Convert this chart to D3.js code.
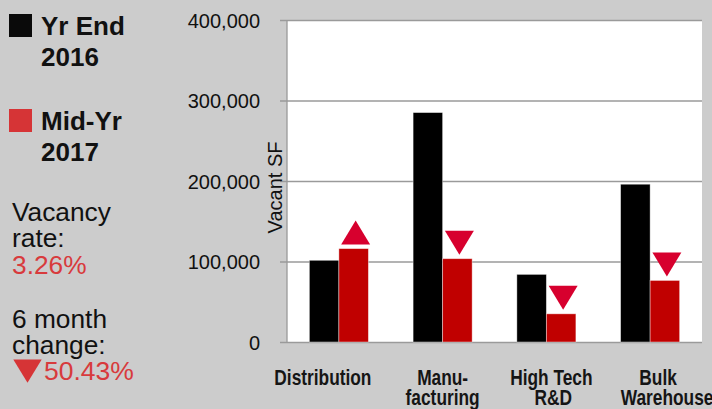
<!DOCTYPE html>
<html>
<head>
<meta charset="utf-8">
<script src="https://cdn.jsdelivr.net/npm/d3@7"></script>
<style>
  html, body { margin: 0; padding: 0; background: #cccccc; }
  svg { display: block; }
</style>
</head>
<body>
<svg id="chart" width="712" height="409"></svg>
<script>
// ---- data ----
const categories = ["Distribution", "Manufacturing", "High Tech R&D", "Bulk Warehouse"];
const categoryLabels = [["Distribution"], ["Manu-", "facturing"], ["High Tech", "R&D"], ["Bulk", "Warehouse"]];
const seriesNames = ["Yr End 2016", "Mid-Yr 2017"];
const yrEnd2016 = [101500, 285000, 84000, 196000];
const midYr2017 = [116000, 103500, 35000, 76500];
const yTicks = [0, 100000, 200000, 300000, 400000];
const vacancyRate = "3.26%";
const sixMonthChange = "50.43%";

// ---- layout ----
const W = 712, H = 409;
const plot = { left: 287, right: 702, top: 20, bottom: 342 };
const svg = d3.select("#chart");

svg.append("rect").attr("x", 0).attr("y", 0).attr("width", W).attr("height", H).attr("fill", "#cccccc");
svg.append("rect").attr("x", plot.left).attr("y", plot.top)
  .attr("width", plot.right - plot.left).attr("height", plot.bottom - plot.top).attr("fill", "#ffffff");

const x = d3.scaleBand().domain(categories).range([plot.left, plot.right])
  .paddingInner(0.431).paddingOuter(0.2155);
const xs = d3.scaleBand().domain([0, 1]).range([0, x.bandwidth()]);
const y = d3.scaleLinear().domain([0, 400000]).range([plot.bottom, plot.top]);

// y axis with gridlines
const yAxis = d3.axisLeft(y).tickValues(yTicks).tickFormat(d3.format(","))
  .tickSize(-(plot.right - plot.left)).tickPadding(27);
const ga = svg.append("g").attr("transform", `translate(${plot.left},0)`).call(yAxis);
ga.select(".domain").remove();
ga.selectAll(".tick line").attr("x1", -7).attr("stroke", "#9a9a9a").attr("stroke-width", 1.3);
ga.selectAll(".tick text").attr("font-family", "'Liberation Sans', Arial, sans-serif")
  .attr("font-size", 20).attr("fill", "#111").attr("dy", "0.35em");
svg.append("line").attr("x1", plot.left).attr("x2", plot.left)
  .attr("y1", plot.top).attr("y2", plot.bottom + 0.5).attr("stroke", "#9a9a9a").attr("stroke-width", 1.3);

// y title
svg.append("text").attr("transform", `translate(282,${(141.7 + 233.3) / 2}) rotate(-90)`)
  .attr("text-anchor", "middle").attr("font-family", "'Liberation Sans', Arial, sans-serif")
  .attr("font-size", 20).attr("fill", "#111").text("Vacant SF");

// bars
const seriesColors = ["#000000", "#c00000"];
const seriesData = [yrEnd2016, midYr2017];
seriesData.forEach((vals, s) => {
  svg.append("g").selectAll("rect").data(vals).join("rect")
    .attr("x", (d, i) => x(categories[i]) + xs(s))
    .attr("y", d => y(d))
    .attr("width", xs.bandwidth())
    .attr("height", d => y(0) - y(d))
    .attr("fill", seriesColors[s])
    .attr("stroke", "#ffffff").attr("stroke-opacity", 0.5).attr("stroke-width", 0.8);
});

// change triangles
const triW = 29, triH = 24, triGap = 4;
svg.append("g").selectAll("path").data(midYr2017).join("path")
  .attr("d", (d, i) => {
    const cx = x(categories[i]) + xs(1) + xs.bandwidth() / 2 + 2;
    const base = y(d) - triGap;
    const up = d > yrEnd2016[i];
    if (up) return `M${cx - triW / 2},${base} L${cx + triW / 2},${base} L${cx},${base - triH} Z`;
    return `M${cx - triW / 2},${base - triH} L${cx + triW / 2},${base - triH} L${cx},${base} Z`;
  })
  .attr("fill", "#d7002e");

// category labels (condensed look via horizontal scale)
const lineDx = [[-16], [0, 0], [5, 7], [8, 17]];
const catFont = "'Liberation Sans', Arial, sans-serif";
categoryLabels.forEach((lines, i) => {
  const cx = x(categories[i]) + x.bandwidth() / 2;
  lines.forEach((ln, j) => {
    svg.append("g").attr("transform", `translate(${cx + lineDx[i][j]},${385 + j * 20}) scale(0.77,1)`)
      .append("text").attr("x", 0).attr("y", 0)
      .attr("text-anchor", "middle").attr("font-family", catFont).attr("font-weight", "bold")
      .attr("font-size", 22.5).attr("fill", "#151515").text(ln);
  });
});

// legend
const legFont = "'Liberation Sans', Arial, sans-serif";
const legColors = ["#0a0a0a", "#d63436"];
const legLines = [["Yr End", "2016"], ["Mid-Yr", "2017"]];
legLines.forEach((lines, k) => {
  const top = 14 + k * 95;
  svg.append("rect").attr("x", 9).attr("y", top).attr("width", 23).attr("height", 23).attr("fill", legColors[k]);
  lines.forEach((ln, j) => {
    svg.append("text").attr("x", 41).attr("y", top + 20.5 + j * 31)
      .attr("font-family", legFont).attr("font-weight", "bold").attr("font-size", 26)
      .attr("fill", "#111").text(ln);
  });
});

// side notes
const noteRed = "#d83a3c";
const notes = [
  { t: "Vacancy", y: 221, c: "#111" },
  { t: "rate:", y: 247, c: "#111" },
  { t: vacancyRate, y: 273.5, c: noteRed },
  { t: "6 month", y: 327.5, c: "#111" },
  { t: "change:", y: 353.5, c: "#111" },
];
notes.forEach(n => {
  svg.append("text").attr("x", 12).attr("y", n.y).attr("font-family", legFont)
    .attr("font-size", 26.3).attr("fill", n.c).text(n.t);
});
svg.append("path").attr("d", "M13.3,359.5 L41.7,359.5 L27.5,382.7 Z").attr("fill", "#d63436");
svg.append("text").attr("x", 44).attr("y", 380).attr("font-family", legFont)
  .attr("font-size", 26.5).attr("fill", noteRed).text(sixMonthChange);
</script>
</body>
</html>
